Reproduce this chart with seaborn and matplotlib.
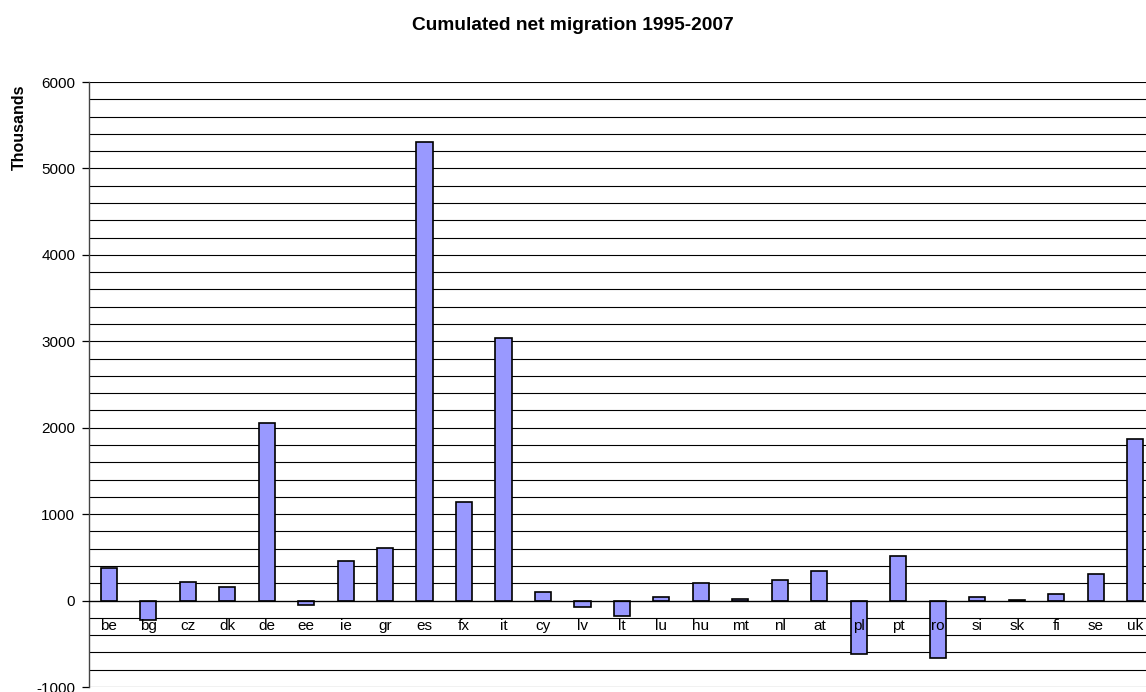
import numpy as np
import pandas as pd
import matplotlib
matplotlib.use("Agg")
import matplotlib.pyplot as plt
import seaborn as sns

# cumulated net migration per country, thousands
countries = ['be', 'bg', 'cz', 'dk', 'de', 'ee', 'ie', 'gr', 'es', 'fx', 'it', 'cy', 'lv', 'lt',
             'lu', 'hu', 'mt', 'nl', 'at', 'pl', 'pt', 'ro', 'si', 'sk', 'fi', 'se', 'uk']
net_migration = [380, -220, 220, 155, 2060, -50, 455, 610, 5305, 1145, 3040, 100, -70, -180,
                 43, 200, 20, 235, 343, -615, 520, -665, 38, 8, 77, 309, 1873]
y_ticks = [-1000, 0, 1000, 2000, 3000, 4000, 5000, 6000]


def create_chart():
    df = pd.DataFrame({'country': countries, 'value': net_migration})

    sns.set_theme(style="white")
    plt.rcParams['font.family'] = ['Liberation Sans', 'DejaVu Sans']
    plt.rcParams['text.color'] = 'black'
    plt.rcParams['xtick.color'] = 'black'
    plt.rcParams['ytick.color'] = 'black'

    fig = plt.figure(figsize=(11.46, 6.92), dpi=100)
    # the original chart is cut off on the right, so the axes run past the figure edge
    ax = fig.add_axes([0.0777, 0.0072, 0.930, 0.8743])

    sns.barplot(data=df, x='country', y='value', color='#9999FF', saturation=1,
                edgecolor='black', linewidth=1.2, width=0.41, ax=ax, zorder=3)

    ax.set_ylim(-1000, 6000)
    ax.set_xlim(-0.5, len(countries) - 0.5)
    ax.set_yticks(y_ticks)
    ax.set_yticklabels([str(v) for v in y_ticks], fontsize=11, color='black')
    ax.set_yticks(np.arange(-1000, 6001, 200), minor=True)
    ax.yaxis.grid(True, which='both', color='black', linewidth=0.8)
    ax.set_axisbelow(True)

    # x axis sits on the zero line, tick marks between the categories
    ax.spines['bottom'].set_position(('data', 0))
    ax.spines['bottom'].set_linewidth(0.9)
    ax.spines['bottom'].set_color('black')
    ax.spines['bottom'].set_zorder(4)
    ax.spines['top'].set_visible(False)
    ax.spines['right'].set_visible(False)
    ax.spines['left'].set_color('#444444')
    ax.spines['left'].set_linewidth(1.0)
    ax.set_xticks(np.arange(len(countries) + 1) - 0.5)
    ax.set_xticklabels([])
    ax.tick_params(axis='x', which='major', length=4, width=0.9, direction='out', color='black')
    ax.tick_params(axis='y', which='major', length=5, width=0.9, direction='out',
                   color='black', left=True, pad=5)
    ax.tick_params(axis='y', which='minor', length=0)

    # category labels drawn on top of the bars, as in the original
    for i, name in enumerate(countries):
        ax.annotate(name, xy=(i, 0), xytext=(0, -21.5), textcoords='offset points',
                    ha='center', va='baseline', fontsize=11, color='black', zorder=6)

    ax.set_xlabel('')
    ax.set_ylabel('')
    fig.text(0.5, 0.9566, 'Cumulated net migration 1995-2007', ha='center', va='baseline',
             fontsize=13.8, fontweight='bold', color='black')
    fig.text(0.0165, 0.8165, 'Thousands', ha='center', va='center', rotation=90,
             fontsize=11.5, fontweight='bold', color='black')

    fig.savefig('out.png', dpi=100)
    plt.close(fig)


if __name__ == "__main__":
    create_chart()
